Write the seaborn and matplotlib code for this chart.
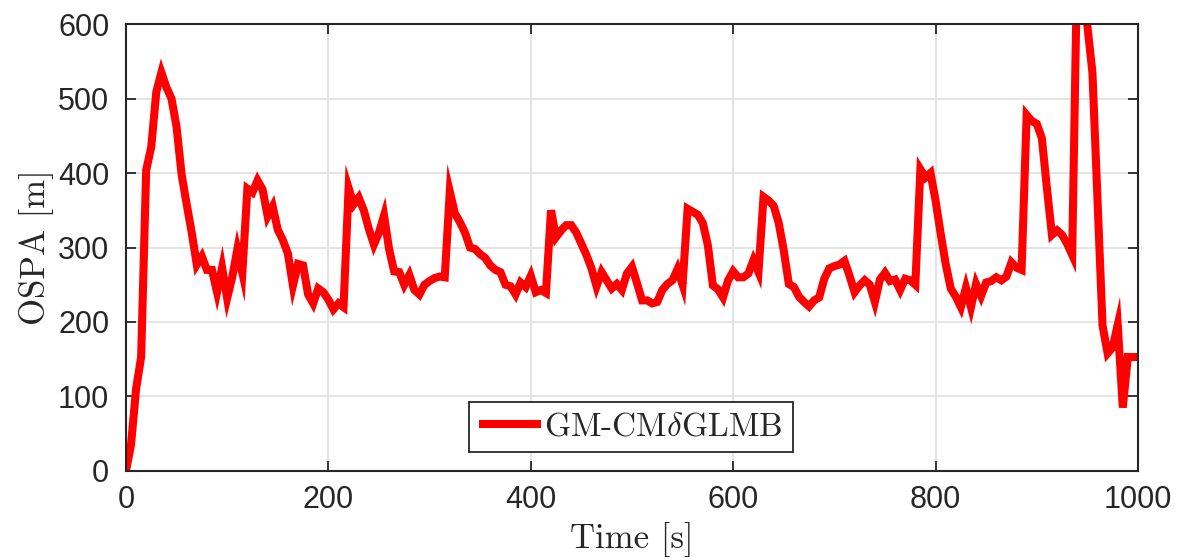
import numpy as np
import matplotlib
matplotlib.use("Agg")
import matplotlib.pyplot as plt
import seaborn as sns

ospa = [
    0, 35, 110, 153, 404, 435, 509, 535, 515, 500,
    462, 398, 358, 320, 277, 288, 270, 270, 240, 273,
    232, 260, 297, 266, 379, 374, 390, 378, 342, 355,
    324, 310, 292, 249, 278, 276, 237, 225, 245, 240,
    230, 217, 225, 220, 380, 358, 367, 350, 325, 304,
    320, 343, 298, 268, 267, 250, 263, 243, 237, 250,
    255, 259, 261, 260, 375, 346, 334, 320, 300, 298,
    291, 286, 276, 270, 267, 250, 248, 237, 253, 247,
    262, 240, 243, 239, 350, 314, 323, 330, 330, 320,
    305, 290, 272, 248, 267, 256, 245, 251, 243, 265,
    274, 252, 229, 229, 225, 227, 243, 251, 256, 271,
    250, 352, 348, 344, 333, 303, 249, 244, 233, 256,
    268, 260, 260, 265, 283, 267, 368, 363, 356, 333,
    296, 251, 247, 234, 227, 221, 229, 233, 258, 272,
    275, 277, 282, 262, 240, 249, 256, 250, 227, 257,
    266, 255, 257, 243, 258, 256, 250, 405, 394, 400,
    363, 319, 278, 245, 234, 220, 246, 220, 251, 235,
    253, 255, 260, 256, 261, 280, 273, 270, 478, 470,
    466, 447, 380, 317, 323, 317, 305, 290, 690, 680,
    598, 535, 366, 195, 158, 166, 196, 85, 153, 153,
    153,
]
time = np.arange(0, 5 * len(ospa), 5)

x_ticks = [0, 200, 400, 600, 800, 1000]
y_ticks = [0, 100, 200, 300, 400, 500, 600]
label = r"GM-CM$\delta$GLMB"

sns.set_style("whitegrid")
plt.rcParams["font.family"] = ["Liberation Sans", "DejaVu Sans"]
plt.rcParams["mathtext.fontset"] = "cm"

fig = plt.figure(figsize=(11.86, 5.6), dpi=100)
ax = fig.add_axes([0.1062, 0.159, 0.8533, 0.798])

sns.lineplot(x=time, y=ospa, color="#ff0000", linewidth=5.8, label=label, ax=ax)
line = ax.get_lines()[0]
line.set_solid_joinstyle("miter")
line.set_solid_capstyle("butt")

ax.set_xlim(0, 1000)
ax.set_ylim(0, 600)
ax.set_xticks(x_ticks)
ax.set_yticks(y_ticks)

ax.grid(True, color="#e0e0e0", linewidth=1.2)
for s in ax.spines.values():
    s.set_visible(True)
    s.set_color("#262626")
    s.set_linewidth(1.5)

ax.tick_params(axis="both", which="both", direction="in", length=7, width=1.3,
               colors="#262626", labelsize=22, top=True, right=True,
               bottom=True, left=True)
ax.tick_params(axis="x", pad=10)
ax.tick_params(axis="y", pad=12)

ax.set_xlabel("Time [s]", fontsize=25, family="cmr10", color="#262626", labelpad=5)
ax.set_ylabel("OSPA [m]", fontsize=25, family="cmr10", color="#262626", labelpad=3)

leg = ax.legend(loc="center", bbox_to_anchor=(0.532, 0.2375),
                bbox_transform=fig.transFigure, fancybox=False, framealpha=1,
                edgecolor="#262626", handlelength=1.85, handletextpad=0.1,
                borderpad=0.3, borderaxespad=0,
                prop={"family": "cmr10", "size": 24})
leg.get_frame().set_linewidth(1.3)

fig.savefig("out.png", dpi=100)
